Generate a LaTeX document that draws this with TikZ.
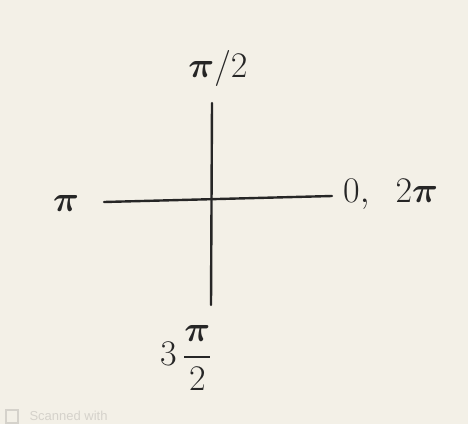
\documentclass[tikz,border=0pt]{standalone}
\usepackage{fontspec}
\usepackage{amsmath}
\usepackage{graphicx}
\newfontfamily\wmfont{Liberation Sans}
\newcommand{\bigmark}[1]{\scalebox{1.45}{#1}}
\begin{document}
\begin{tikzpicture}[x=1pt,y=-1pt,
  axis/.style={line width=2.4pt,draw=ink,line cap=round},
  lab/.style={text=ink,font=\Huge,inner sep=1pt}]
\definecolor{paper}{HTML}{F3F0E7}
\definecolor{ink}{HTML}{262626}
\definecolor{faint}{HTML}{D5D2CB}
\fill[paper] (0,0) rectangle (468,424);
\useasboundingbox (0,0) rectangle (468,424);
\coordinate (top) at (212,103);
\coordinate (bot) at (211,305);
\coordinate (left) at (104,202);
\coordinate (right) at (332,196);
\draw[axis] (top) -- (bot);
\draw[axis] (left) -- (right);
\node[lab] (pihalf) at (218,68) {\bigmark{$\boldsymbol{\pi}/2$}};
\node[lab] (pi) at (66,203) {\bigmark{$\boldsymbol{\pi}$}};
\node[lab,anchor=west] (zero) at (342,194) {\bigmark{$0,\;\;2\boldsymbol{\pi}$}};
\node[lab] (tpt) at (186,358) {\bigmark{$3\,\dfrac{\boldsymbol{\pi}}{2}$}};
\node[text=faint,font=\wmfont\fontsize{13}{15}\selectfont,anchor=west] (scan) at (26,416) {Scanned with};
\draw[faint,line width=1.3pt] (6,410) rectangle (18,423);
\end{tikzpicture}
\end{document}
